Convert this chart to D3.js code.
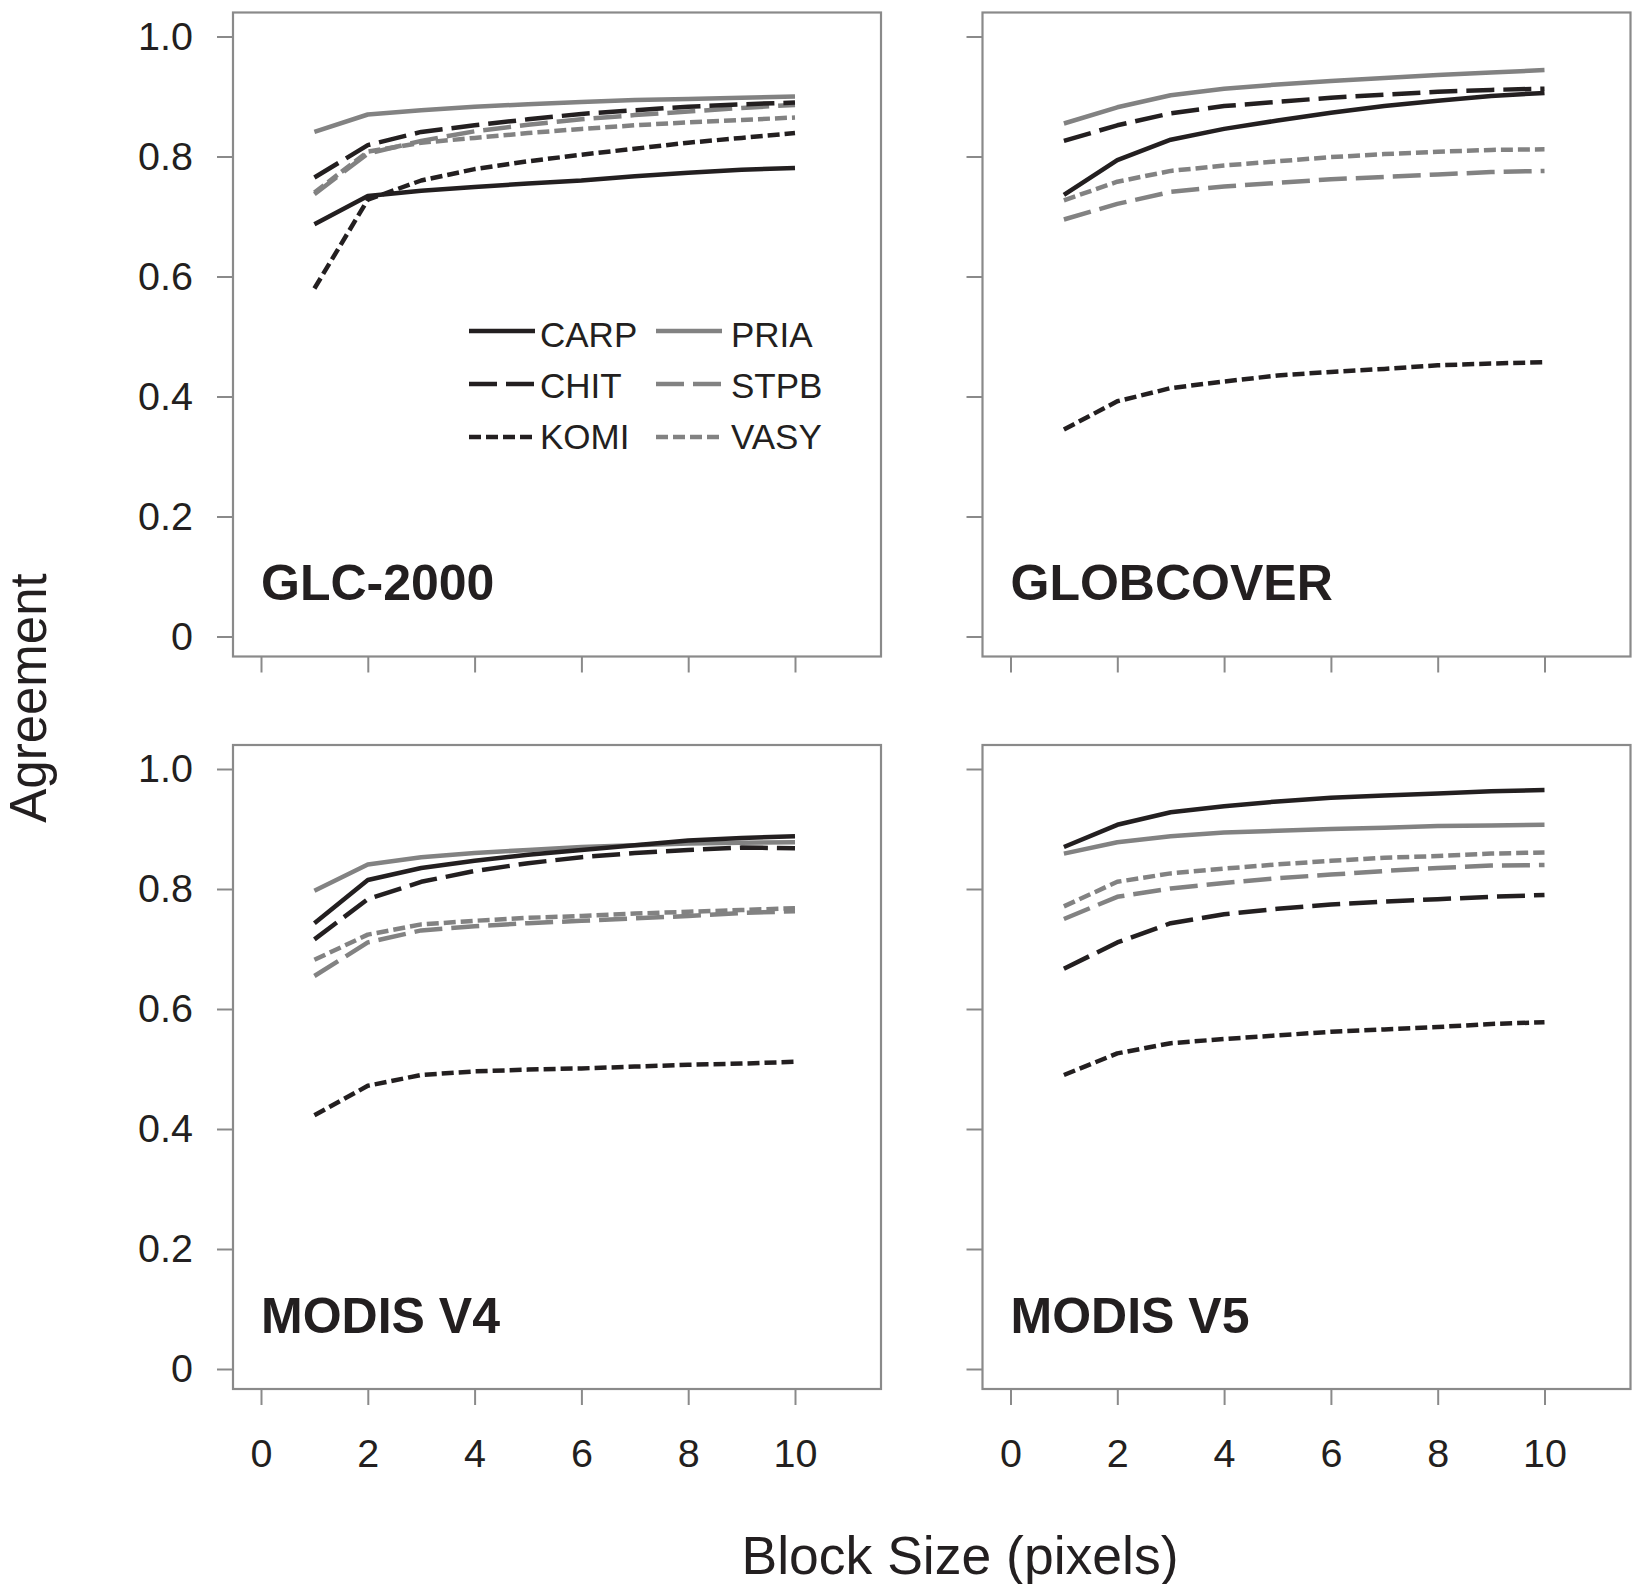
<!DOCTYPE html>
<html>
<head>
<meta charset="utf-8">
<script src="https://cdn.jsdelivr.net/npm/d3@7"></script>
<style>
  html, body { margin: 0; padding: 0; background: #ffffff; }
  svg { display: block; }
  text { font-family: "Liberation Sans", Arial, Helvetica, sans-serif; fill: #231f20; }
</style>
</head>
<body>
<svg id="chart" width="1632" height="1584"></svg>
<script>
// ---------------- DATA ----------------
const blockSizes = [1, 2, 3, 4, 5, 6, 7, 8, 9, 10];
const seriesNames = ["CARP", "CHIT", "KOMI", "PRIA", "STPB", "VASY"];
const panelTitles = ["GLC-2000", "GLOBCOVER", "MODIS V4", "MODIS V5"];
const yTickValues = [0, 0.2, 0.4, 0.6, 0.8, 1.0];
const xTickValues = [0, 2, 4, 6, 8, 10];

// values per panel, rows in seriesNames order
const glc2000Values = [
  [0.687, 0.734, 0.743, 0.749, 0.755, 0.760, 0.767, 0.773, 0.778, 0.781], // CARP
  [0.765, 0.819, 0.841, 0.852, 0.862, 0.871, 0.877, 0.883, 0.887, 0.890], // CHIT
  [0.580, 0.728, 0.760, 0.779, 0.792, 0.803, 0.813, 0.823, 0.831, 0.839], // KOMI
  [0.841, 0.870, 0.877, 0.883, 0.887, 0.891, 0.894, 0.896, 0.898, 0.900], // PRIA
  [0.737, 0.805, 0.826, 0.842, 0.853, 0.862, 0.869, 0.875, 0.881, 0.886], // STPB
  [0.740, 0.808, 0.823, 0.831, 0.839, 0.846, 0.852, 0.857, 0.861, 0.865]  // VASY
];
const globcoverValues = [
  [0.736, 0.794, 0.828, 0.846, 0.860, 0.873, 0.884, 0.893, 0.901, 0.906],
  [0.826, 0.852, 0.872, 0.884, 0.891, 0.898, 0.903, 0.908, 0.911, 0.913],
  [0.345, 0.392, 0.414, 0.425, 0.435, 0.441, 0.446, 0.452, 0.455, 0.457],
  [0.855, 0.882, 0.902, 0.913, 0.920, 0.926, 0.931, 0.936, 0.940, 0.944],
  [0.695, 0.721, 0.741, 0.750, 0.756, 0.762, 0.766, 0.770, 0.774, 0.776],
  [0.727, 0.758, 0.776, 0.785, 0.792, 0.799, 0.804, 0.808, 0.811, 0.812]
];
const modisV4Values = [
  [0.743, 0.815, 0.835, 0.847, 0.857, 0.865, 0.873, 0.881, 0.885, 0.888],
  [0.716, 0.783, 0.812, 0.830, 0.843, 0.853, 0.860, 0.865, 0.869, 0.868],
  [0.423, 0.472, 0.490, 0.496, 0.499, 0.501, 0.504, 0.507, 0.509, 0.512],
  [0.797, 0.841, 0.853, 0.860, 0.865, 0.870, 0.873, 0.876, 0.877, 0.878],
  [0.655, 0.711, 0.731, 0.738, 0.743, 0.747, 0.751, 0.755, 0.760, 0.763],
  [0.682, 0.724, 0.741, 0.747, 0.752, 0.755, 0.759, 0.762, 0.765, 0.768]
];
const modisV5Values = [
  [0.870, 0.907, 0.928, 0.938, 0.946, 0.952, 0.956, 0.959, 0.963, 0.965],
  [0.667, 0.711, 0.743, 0.758, 0.767, 0.774, 0.779, 0.783, 0.787, 0.790],
  [0.490, 0.526, 0.543, 0.550, 0.556, 0.562, 0.566, 0.570, 0.575, 0.578],
  [0.859, 0.878, 0.888, 0.894, 0.897, 0.900, 0.902, 0.905, 0.906, 0.907],
  [0.750, 0.787, 0.801, 0.810, 0.818, 0.824, 0.830, 0.835, 0.839, 0.840],
  [0.771, 0.812, 0.826, 0.834, 0.841, 0.847, 0.852, 0.855, 0.859, 0.861]
];
const panelValues = [glc2000Values, globcoverValues, modisV4Values, modisV5Values];

// ---------------- STYLE ----------------
const BLACK = "#231f20";
const GRAY = "#828282";
const FRAME = "#8a8a8a";
const seriesStyle = {
  CARP: { color: BLACK, dash: null },
  CHIT: { color: BLACK, dash: "28,9" },
  KOMI: { color: BLACK, dash: "12,5" },
  PRIA: { color: GRAY, dash: null },
  STPB: { color: GRAY, dash: "28,9" },
  VASY: { color: GRAY, dash: "12,5" }
};

// ---------------- LAYOUT ----------------
const svg = d3.select("#chart");
const colLeft = [233, 982.5];
const rowTop = [12.5, 745];
const boxW = 648, boxH = 644;
const xOff0 = 28, xOff10 = 562;   // x=0 and x=10 positions inside box
const yOff1 = 24, yOff0 = 624;    // y=1 and y=0 positions inside box
const tickLen = 16;

panelTitles.forEach((title, i) => {
  const col = i % 2, row = Math.floor(i / 2);
  const bx = colLeft[col], by = rowTop[row];
  const x = d3.scaleLinear().domain([0, 10]).range([bx + xOff0, bx + xOff10]);
  const y = d3.scaleLinear().domain([0, 1]).range([by + yOff0, by + yOff1]);

  const g = svg.append("g");

  // frame
  g.append("rect")
    .attr("x", bx).attr("y", by).attr("width", boxW).attr("height", boxH)
    .attr("fill", "none").attr("stroke", FRAME).attr("stroke-width", 2.2);

  // y axis ticks (outside the frame)
  const yAxis = d3.axisLeft(y).tickValues(yTickValues).tickSize(tickLen).tickPadding(24)
    .tickFormat(d => col === 0 ? (d === 0 ? "0" : d3.format(".1f")(d)) : "");
  const ya = g.append("g").attr("transform", `translate(${bx},0)`).call(yAxis);
  ya.select(".domain").remove();
  ya.selectAll(".tick line").attr("stroke", FRAME).attr("stroke-width", 2);
  ya.selectAll(".tick text").attr("font-size", 39.5).attr("fill", BLACK)
    .attr("font-family", "'Liberation Sans', Arial, sans-serif");

  // x axis ticks
  const xAxis = d3.axisBottom(x).tickValues(xTickValues).tickSize(tickLen).tickPadding(34)
    .tickFormat(d => row === 1 ? String(d) : "");
  const xa = g.append("g").attr("transform", `translate(0,${by + boxH})`).call(xAxis);
  xa.select(".domain").remove();
  xa.selectAll(".tick line").attr("stroke", FRAME).attr("stroke-width", 2);
  xa.selectAll(".tick text").attr("font-size", 39.5).attr("fill", BLACK)
    .attr("font-family", "'Liberation Sans', Arial, sans-serif");

  // lines
  const line = d3.line().x((d, k) => x(blockSizes[k])).y(d => y(d)).curve(d3.curveLinear);
  const vals = panelValues[i];
  const drawOrder = [3, 4, 5, 0, 1, 2];
  drawOrder.forEach(s => {
    const st = seriesStyle[seriesNames[s]];
    g.append("path")
      .datum(vals[s])
      .attr("d", line)
      .attr("fill", "none")
      .attr("stroke", st.color)
      .attr("stroke-width", 4.5)
      .attr("stroke-linejoin", "round")
      .attr("stroke-dasharray", st.dash);
  });

  // panel title
  g.append("text")
    .attr("x", x(0)).attr("y", by + 587.5)
    .attr("font-size", 50).attr("font-weight", "bold")
    .text(title);

  // legend only in the first panel
  if (i === 0) {
    const legCols = [{ lx1: 469, lx2: 535, tx: 540 }, { lx1: 656, lx2: 722, tx: 731 }];
    const lineY = [331, 384, 437];
    const textY = [347, 398, 449];
    seriesNames.forEach((name, s) => {
      const c = legCols[Math.floor(s / 3)], r = s % 3;
      const st = seriesStyle[name];
      g.append("line")
        .attr("x1", c.lx1).attr("x2", c.lx2).attr("y1", lineY[r]).attr("y2", lineY[r])
        .attr("stroke", st.color).attr("stroke-width", 4.5)
        .attr("stroke-dasharray", st.dash);
      g.append("text")
        .attr("x", c.tx).attr("y", textY[r])
        .attr("font-size", 35)
        .text(name);
    });
  }
});

// axis titles
svg.append("text")
  .attr("transform", "translate(46,698) rotate(-90)")
  .attr("text-anchor", "middle")
  .attr("font-size", 51)
  .text("Agreement");

svg.append("text")
  .attr("x", 960).attr("y", 1574)
  .attr("text-anchor", "middle")
  .attr("font-size", 53.5)
  .text("Block Size (pixels)");
</script>
</body>
</html>
